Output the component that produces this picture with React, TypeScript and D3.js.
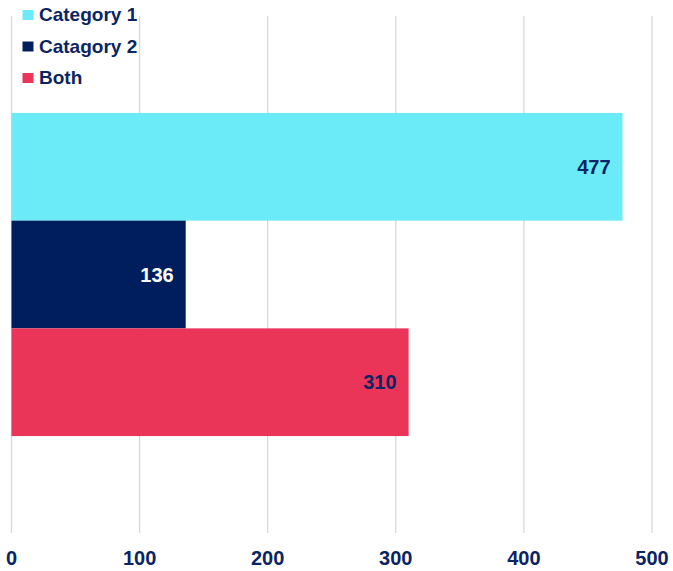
import * as d3 from "d3";

const seriesNames = ["Category 1", "Catagory 2", "Both"];
const seriesValues = [477, 136, 310];
const seriesColors = ["#6BEBF7", "#001E5E", "#EA3559"];
const labelColors = ["#0B2463", "#FFFFFF", "#0B2463"];
const xTicks = [0, 100, 200, 300, 400, 500];

const W = 673;
const H = 571;
const font = "'Liberation Sans', Arial, sans-serif";

export default function App() {
  const margin = { top: 16, right: 21, bottom: 38, left: 11.5 };
  const plotBottom = H - margin.bottom;

  const x = d3
    .scaleLinear()
    .domain([0, 500])
    .range([margin.left, W - margin.right]);

  // one category group, series stacked side by side inside it
  const group = d3
    .scaleBand()
    .domain(["all"])
    .range([margin.top, plotBottom])
    .paddingOuter(0.3);
  const y = d3
    .scaleBand()
    .domain(seriesNames)
    .range([group("all")!, group("all")! + group.bandwidth()]);

  return (
    <svg
      width={W}
      height={H}
      style={{ position: "absolute", left: 0, top: 0, background: "#fff" }}
      fontFamily={font}
    >
      {/* gridlines */}
      {xTicks.map((t) => (
        <line
          key={t}
          x1={x(t)}
          x2={x(t)}
          y1={margin.top}
          y2={plotBottom}
          stroke="#d9d9d9"
          strokeWidth={1.3}
        />
      ))}

      {/* bars */}
      {seriesNames.map((s, i) => (
        <g key={s}>
          <rect
            x={x(0)}
            y={y(s)}
            width={x(seriesValues[i]) - x(0)}
            height={y.bandwidth()}
            fill={seriesColors[i]}
          />
          <text
            x={x(seriesValues[i]) - 12}
            y={y(s)! + y.bandwidth() / 2}
            dy="0.36em"
            textAnchor="end"
            fontWeight="bold"
            fontSize={20}
            fill={labelColors[i]}
          >
            {seriesValues[i]}
          </text>
        </g>
      ))}

      {/* x tick labels */}
      {xTicks.map((t) => (
        <text
          key={t}
          x={x(t)}
          y={565}
          textAnchor="middle"
          fontWeight="bold"
          fontSize={20}
          fill="#0B2463"
        >
          {t}
        </text>
      ))}

      {/* legend */}
      <g>
        {seriesNames.map((s, i) => (
          <g key={s} transform={`translate(22, ${21 + i * 31.5})`}>
            <rect x={0.5} y={-11} width={11} height={10} fill={seriesColors[i]} />
            <text x={17} y={0} fontWeight="bold" fontSize={19} fill="#0B2463">
              {s}
            </text>
          </g>
        ))}
      </g>
    </svg>
  );
}
